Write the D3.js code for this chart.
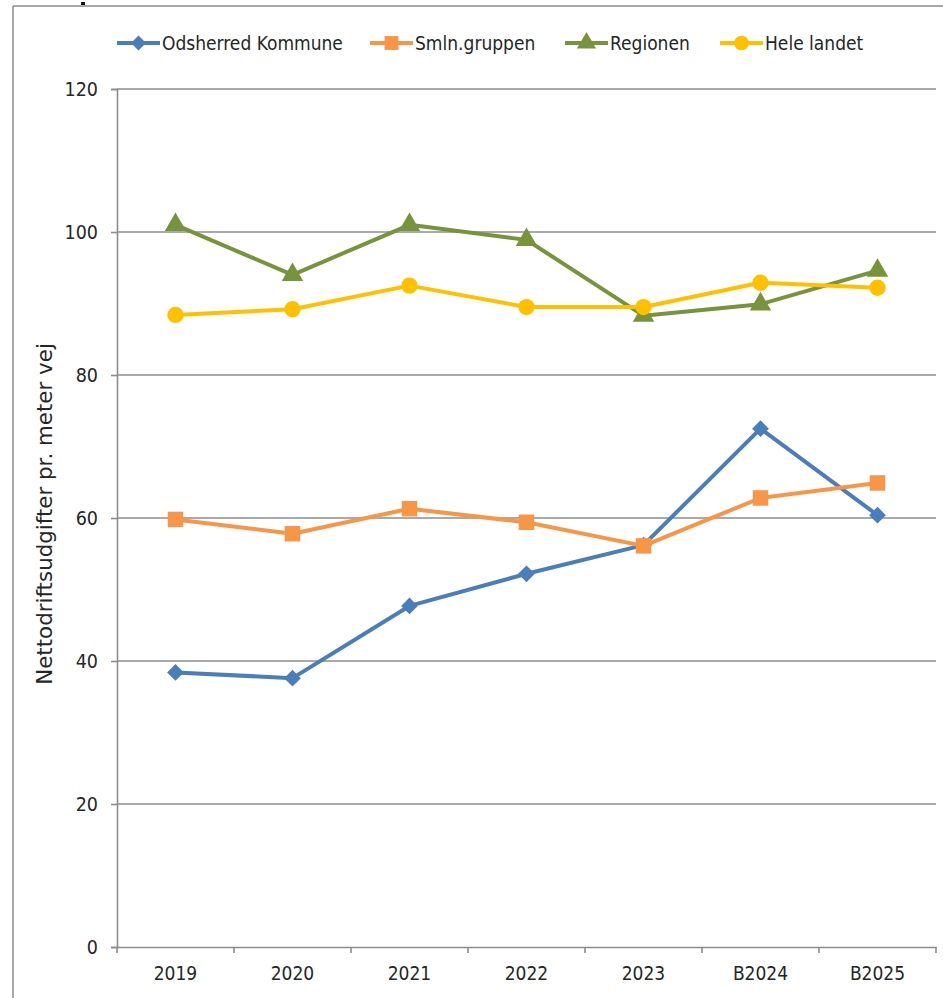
<!DOCTYPE html>
<html><head><meta charset="utf-8">
<script src="https://cdn.jsdelivr.net/npm/d3@7"></script>
<style>
html,body{margin:0;padding:0;background:#fff;}
svg text{font-family:"Liberation Sans Narrow","DejaVu Sans Condensed","Liberation Sans",Arial,sans-serif;fill:#262626;}
</style></head>
<body>
<svg id="c" width="943" height="998"></svg>
<script>
const categories = ["2019","2020","2021","2022","2023","B2024","B2025"];
const odsherred = [38.4, 37.6, 47.7, 52.2, 56.2, 72.5, 60.4];
const smln = [59.8, 57.8, 61.3, 59.4, 56.1, 62.8, 64.9];
const regionen = [101.0, 94.0, 101.0, 98.9, 88.3, 89.9, 94.6];
const heleLandet = [88.4, 89.2, 92.5, 89.5, 89.5, 92.9, 92.2];
const yTicks = [0, 20, 40, 60, 80, 100, 120];
const seriesNames = ["Odsherred Kommune","Smln.gruppen","Regionen","Hele landet"];
const seriesColors = ["#4A7EBB","#F79646","#77933C","#FFC000"];
const seriesSymbols = [d3.symbolSquare, d3.symbolSquare, d3.symbolTriangle, d3.symbolCircle];
const seriesRot = [45, 0, 0, 0];
const seriesValues = [odsherred, smln, regionen, heleLandet];
const yTitle = "Nettodriftsudgifter pr. meter vej";

const svg = d3.select("#c");
const pLeft = 117, pRight = 936, pTop = 89, pBottom = 947;

// outer frame
svg.append("line").attr("x1",13).attr("x2",13).attr("y1",6).attr("y2",998).attr("stroke","#8a8a8a").attr("stroke-width",1.5);
svg.append("line").attr("x1",13).attr("x2",943).attr("y1",6).attr("y2",6).attr("stroke","#8a8a8a").attr("stroke-width",1.5);
svg.append("rect").attr("x",81).attr("y",2).attr("width",4).attr("height",3).attr("fill","#111");

const x = d3.scaleBand().domain(categories).range([pLeft, pRight]).padding(0);
const y = d3.scaleLinear().domain([0,120]).range([pBottom, pTop]);

// gridlines
svg.append("g").selectAll("line").data(yTicks.filter(t=>t>0)).join("line")
  .attr("x1", pLeft).attr("x2", pRight).attr("y1", d=>y(d)).attr("y2", d=>y(d))
  .attr("stroke","#8c8c8c").attr("stroke-width",1.6);

// y axis
const yAxis = d3.axisLeft(y).tickValues(yTicks).tickSize(6).tickPadding(13).tickFormat(d3.format("d"));
const gy = svg.append("g").attr("transform",`translate(${pLeft},0)`).call(yAxis);
gy.attr("font-family",null).attr("font-size",null);
gy.select(".domain").attr("stroke","#8c8c8c").attr("stroke-width",1.6);
gy.selectAll(".tick line").attr("stroke","#8c8c8c").attr("stroke-width",1.6);
gy.selectAll(".tick text").attr("font-size",19.5).attr("fill","#262626");

// x axis
const xAxis = d3.axisBottom(x).tickSize(0).tickPadding(20);
const gx = svg.append("g").attr("transform",`translate(0,${pBottom})`).call(xAxis);
gx.attr("font-family",null).attr("font-size",null);
gx.select(".domain").attr("stroke","#8c8c8c").attr("stroke-width",1.6);
gx.selectAll(".tick text").attr("font-size",19).attr("fill","#262626").attr("dy","0.7em");
// boundary ticks
const bounds = categories.map(c=>x(c)).concat([x(categories[categories.length-1])+x.bandwidth()]);
svg.append("g").selectAll("line").data(bounds).join("line")
  .attr("x1",d=>d).attr("x2",d=>d).attr("y1",pBottom).attr("y2",pBottom+6)
  .attr("stroke","#8c8c8c").attr("stroke-width",1.6);

// y title
const yt = svg.append("text").attr("transform","translate(52,514) rotate(-90)")
  .attr("text-anchor","middle").style("font-family","'DejaVu Sans',sans-serif")
  .attr("font-size",100).text(yTitle);
const w100 = yt.node().getComputedTextLength();
yt.attr("font-size", 100*342/w100);

// lines
const line = d3.line().x((d,i)=>x(categories[i])+x.bandwidth()/2).y(d=>y(d));
const symSize = [140, 240, 200, 210];
seriesValues.forEach((vals,si)=>{
  const g = svg.append("g");
  g.append("path").datum(vals).attr("d",line).attr("fill","none")
    .attr("stroke",seriesColors[si]).attr("stroke-width",4).attr("stroke-linejoin","round");
  g.selectAll("path.m").data(vals).join("path").attr("class","m")
    .attr("transform",(d,i)=>`translate(${x(categories[i])+x.bandwidth()/2},${y(d)}) rotate(${seriesRot[si]})`)
    .attr("d", d3.symbol().type(seriesSymbols[si]).size(symSize[si]))
    .attr("fill",seriesColors[si]);
});

// legend
const legX = [117, 370, 565, 720];
seriesNames.forEach((n,si)=>{
  const g = svg.append("g").attr("transform",`translate(${legX[si]},43)`);
  g.append("line").attr("x1",0).attr("x2",43).attr("stroke",seriesColors[si]).attr("stroke-width",4);
  g.append("path").attr("transform",`translate(21.5,0) rotate(${seriesRot[si]})`)
    .attr("d", d3.symbol().type(seriesSymbols[si]).size(symSize[si]*0.8)).attr("fill",seriesColors[si]);
  g.append("text").attr("x",45).attr("dy","0.35em").attr("font-size",19).text(n);
});
</script>
</body></html>
